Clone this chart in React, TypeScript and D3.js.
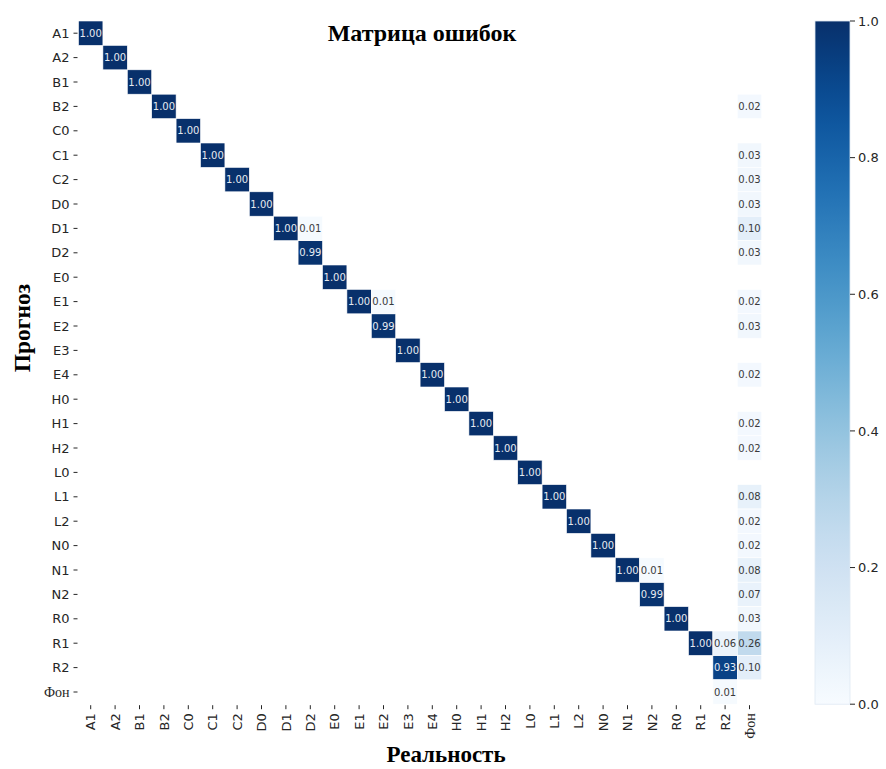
import React from "react";
import * as d3 from "d3";

const labels = ["A1","A2","B1","B2","C0","C1","C2","D0","D1","D2","E0","E1","E2","E3","E4","H0","H1","H2","L0","L1","L2","N0","N1","N2","R0","R1","R2","Фон"];

// diagonal values (predicted == real)
const diagonal = [1,1,1,1,1,1,1,1,1,0.99,1,1,0.99,1,1,1,1,1,1,1,1,1,1,0.99,1,1,0.93,0];

// off-diagonal non-zero entries: [predicted row, real column, value]
const offDiagonal: [string, string, number][] = [
  ["D1","D2",0.01],
  ["E1","E2",0.01],
  ["N1","N2",0.01],
  ["R1","R2",0.06],
  ["Фон","R2",0.01],
];

// column "Фон" (background predicted as class)
const backgroundColumn: [string, number][] = [
  ["B2",0.02],["C1",0.03],["C2",0.03],["D0",0.03],["D1",0.10],["D2",0.03],
  ["E1",0.02],["E2",0.03],["E4",0.02],["H1",0.02],["H2",0.02],["L1",0.08],
  ["L2",0.02],["N0",0.02],["N1",0.08],["N2",0.07],["R0",0.03],["R1",0.26],["R2",0.10],
];

const colorbarTicks = [0,0.2,0.4,0.6,0.8,1.0];

type Cell = { row: string; col: string; v: number };

function buildCells(): Cell[] {
  const cells: Cell[] = [];
  labels.forEach((l, i) => { if (diagonal[i] > 0) cells.push({ row: l, col: l, v: diagonal[i] }); });
  offDiagonal.forEach(([r, c, v]) => cells.push({ row: r, col: c, v }));
  backgroundColumn.forEach(([r, v]) => cells.push({ row: r, col: "Фон", v }));
  return cells;
}

function luminance(col: string) {
  const c = d3.rgb(col);
  const f = (x: number) => { x /= 255; return x <= 0.03928 ? x / 12.92 : Math.pow((x + 0.055) / 1.055, 2.4); };
  return 0.2126 * f(c.r) + 0.7152 * f(c.g) + 0.0722 * f(c.b);
}

export default function App() {
  const W = 886, H = 769;
  const left = 78.5, top = 21, size = 24.4 * 28;
  const x = d3.scaleBand<string>().domain(labels).range([left, left + size]);
  const y = d3.scaleBand<string>().domain(labels).range([top, top + size]);
  const color = (v: number) => d3.interpolateBlues(v);
  const cells = buildCells();

  const cbX = 815, cbW = 35;
  const cb = d3.scaleLinear().domain([0, 1]).range([top + size, top]);
  const stops = d3.range(0, 1.0001, 0.05);

  const sans = "DejaVu Sans, sans-serif";
  const serif = "Liberation Serif, Times New Roman, serif";
  const tickColor = "#262626";

  return (
    <svg width={W} height={H} style={{ position: "absolute", left: 0, top: 0, background: "#fff" }}>
      <defs>
        <linearGradient id="cbgrad" x1="0" y1="1" x2="0" y2="0">
          {stops.map((s) => (
            <stop key={s} offset={`${s * 100}%`} stopColor={color(s)} />
          ))}
        </linearGradient>
      </defs>

      {/* cells */}
      {cells.map((c, i) => {
        const fill = color(c.v);
        const txt = luminance(fill) > 0.408 ? "#262626" : "#ffffff";
        return (
          <g key={i}>
            <rect x={x(c.col)} y={y(c.row)} width={x.bandwidth()} height={y.bandwidth()} fill={fill} stroke="#ffffff" strokeWidth={0.6} />
            <text x={(x(c.col) as number) + x.bandwidth() / 2} y={(y(c.row) as number) + y.bandwidth() / 2} dy="0.36em"
              textAnchor="middle" fontFamily={sans} fontSize={10} fill={txt} opacity={0.9}>
              {c.v.toFixed(2)}
            </text>
          </g>
        );
      })}

      {/* y axis */}
      {labels.map((l) => {
        const cy = (y(l) as number) + y.bandwidth() / 2;
        const isFon = l === "Фон";
        return (
          <g key={"y" + l}>
            <line x1={left - 5} x2={left - 1} y1={cy} y2={cy} stroke={tickColor} strokeWidth={1} />
            <text x={left - 9} y={cy} dy="0.36em" textAnchor="end" fontFamily={isFon ? serif : sans}
              fontSize={isFon ? 14 : 13} fill={tickColor}>{l}</text>
          </g>
        );
      })}

      {/* x axis */}
      {labels.map((l) => {
        const cx = (x(l) as number) + x.bandwidth() / 2;
        const by = top + size;
        const isFon = l === "Фон";
        return (
          <g key={"x" + l}>
            <line x1={cx} x2={cx} y1={by + 1} y2={by + 5} stroke={tickColor} strokeWidth={1} />
            <text transform={`translate(${cx},${by + 9}) rotate(-90)`} dy="0.36em" textAnchor="end"
              fontFamily={isFon ? serif : sans} fontSize={isFon ? 14 : 13} fill={tickColor}>{l}</text>
          </g>
        );
      })}

      {/* colorbar */}
      <rect x={cbX} y={top} width={cbW} height={size} fill="url(#cbgrad)" stroke="#dfe8f3" strokeWidth={0.8} />
      {colorbarTicks.map((t) => (
        <g key={"cb" + t}>
          <line x1={cbX + cbW} x2={cbX + cbW + 5} y1={cb(t)} y2={cb(t)} stroke={tickColor} strokeWidth={1} />
          <text x={cbX + cbW + 8} y={cb(t)} dy="0.36em" fontFamily={sans} fontSize={13} fill={tickColor}>{t.toFixed(1)}</text>
        </g>
      ))}

      {/* titles */}
      <text x={422} y={41} textAnchor="middle" fontFamily={serif} fontWeight="bold" fontSize={24} fill="#000">Матрица ошибок</text>
      <text x={446} y={762} textAnchor="middle" fontFamily={serif} fontWeight="bold" fontSize={23} fill="#000">Реальность</text>
      <text transform="translate(30,328) rotate(-90)" textAnchor="middle" fontFamily={serif} fontWeight="bold" fontSize={23.5} fill="#000">Прогноз</text>
    </svg>
  );
}
